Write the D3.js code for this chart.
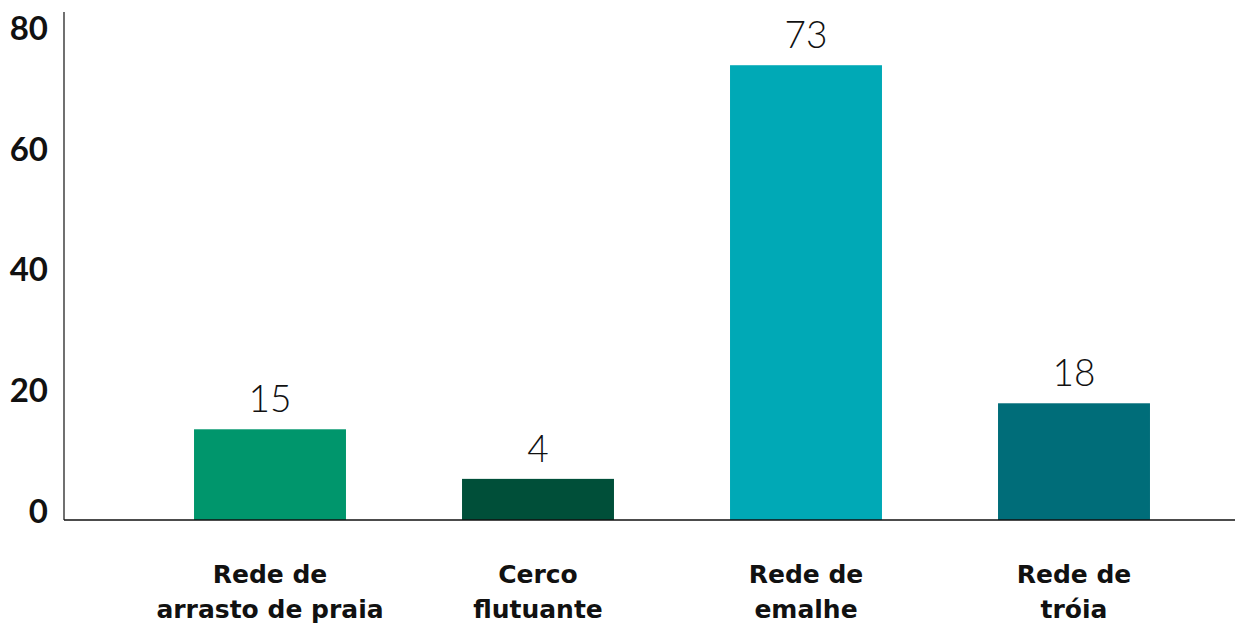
<!DOCTYPE html>
<html>
<head>
<meta charset="utf-8">
<script src="https://cdn.jsdelivr.net/npm/d3@7"></script>
<style>
  body { margin: 0; background: #fff; }
  svg { display: block; font-family: Lato, "Open Sans", sans-serif; }
</style>
</head>
<body>
<svg class="chart"></svg>
<script>
// data
var categories = ["Rede de\narrasto de praia", "Cerco\nflutuante", "Rede de\nemalhe", "Rede de\ntróia"];
var barValues = [15, 6.8, 75.2, 19.3];
var valueLabels = ["15", "4", "73", "18"];
var yTicks = [0, 20, 40, 60, 80];
var colors = ["#00966c", "#004f39", "#00a9b6", "#006d79"];

var width = 1238, height = 632;
var axisX = 64, baseY = 520, topY = 12;

var svg = d3.select(".chart")
    .attr("width", width)
    .attr("height", height);

// scales
var x = d3.scaleBand()
    .domain(categories)
    .range([136, 1208])
    .paddingInner(0.433)
    .paddingOuter(0.2165);

var y = d3.scaleLinear()
    .domain([0, 84])
    .range([baseY, topY]);

// bars
svg.selectAll(".bar")
    .data(barValues)
  .enter().append("rect")
    .attr("class", "bar")
    .attr("x", function(d, i) { return x(categories[i]); })
    .attr("width", x.bandwidth())
    .attr("y", function(d) { return y(d); })
    .attr("height", function(d) { return baseY - y(d); })
    .style("fill", function(d, i) { return colors[i]; });

// value labels
svg.selectAll(".val")
    .data(barValues)
  .enter().append("text")
    .attr("class", "val")
    .attr("x", function(d, i) { return x(categories[i]) + x.bandwidth() / 2; })
    .attr("y", function(d) { return y(d) - 17; })
    .attr("text-anchor", "middle")
    .style("font-size", "37px")
    .style("font-weight", 300)
    .style("fill", "#111")
    .text(function(d, i) { return valueLabels[i]; });

// y axis
var yAxis = svg.append("g")
    .attr("transform", "translate(" + axisX + ",0)")
    .call(d3.axisLeft(y).tickValues(yTicks).tickSize(0).tickPadding(16));
yAxis.select(".domain").remove();
yAxis.selectAll("text")
    .attr("dy", "0.36em")
    .attr("transform", "translate(0,-9)")
    .style("font-family", "Lato, sans-serif")
    .style("font-size", "33px")
    .style("font-weight", 700)
    .style("fill", "#111");

// axis lines
svg.append("line")
    .attr("x1", axisX).attr("x2", axisX)
    .attr("y1", topY).attr("y2", baseY)
    .style("stroke", "#111").style("stroke-width", 1.2);
svg.append("line")
    .attr("x1", axisX).attr("x2", 1235)
    .attr("y1", baseY).attr("y2", baseY)
    .style("stroke", "#111").style("stroke-width", 1.5);

// category labels
var cat = svg.selectAll(".cat")
    .data(categories)
  .enter().append("text")
    .attr("class", "cat")
    .attr("text-anchor", "middle")
    .style("font-family", "'DejaVu Sans', sans-serif")
    .style("font-size", "25px")
    .style("font-weight", 700)
    .style("fill", "#111");

cat.selectAll("tspan")
    .data(function(d) {
      var cx = x(d) + x.bandwidth() / 2;
      return d.split("\n").map(function(t, j) { return {t: t, cx: cx, j: j}; });
    })
  .enter().append("tspan")
    .attr("x", function(d) { return d.cx; })
    .attr("y", function(d) { return 583 + d.j * 35; })
    .text(function(d) { return d.t; });
</script>
</body>
</html>
